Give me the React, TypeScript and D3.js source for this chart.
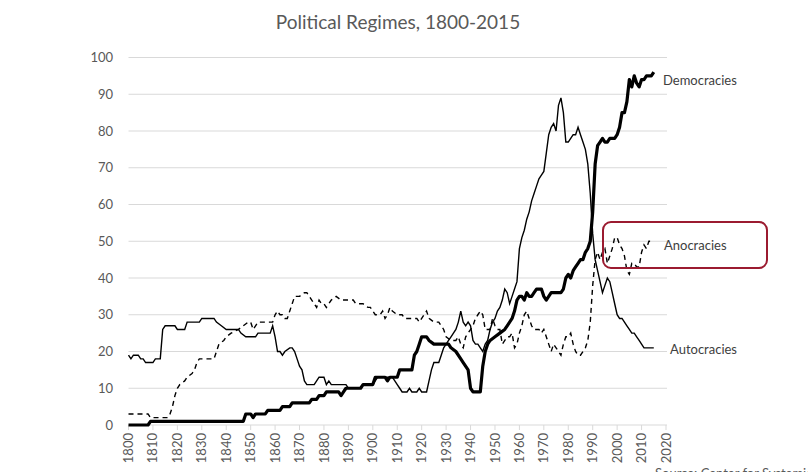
import React from 'react';
import * as d3 from 'd3';

// ── data (count of countries per regime type) ──
const DEM_YEARS = [1800, 1808, 1809, 1847, 1848, 1850, 1851, 1852, 1856, 1857, 1862, 1863, 1866, 1867, 1874, 1875, 1877, 1878, 1880, 1881, 1886, 1887, 1888, 1889, 1895, 1896, 1900, 1901, 1905, 1906, 1907, 1908, 1910, 1911, 1916, 1917, 1918, 1919, 1920, 1922, 1923, 1925, 1931, 1932, 1934, 1936, 1937, 1939, 1940, 1941, 1943, 1944, 1945, 1946, 1947, 1948, 1950, 1952, 1954, 1955, 1956, 1957, 1958, 1959, 1960, 1961, 1962, 1963, 1964, 1965, 1966, 1967, 1969, 1970, 1971, 1972, 1973, 1975, 1976, 1977, 1978, 1979, 1980, 1981, 1982, 1983, 1984, 1985, 1986, 1987, 1988, 1989, 1990, 1991, 1992, 1993, 1994, 1995, 1996, 1997, 1998, 1999, 2000, 2001, 2002, 2003, 2004, 2005, 2006, 2007, 2008, 2009, 2010, 2011, 2012, 2013, 2014, 2015];
const DEM_VALUES = [0, 0, 1, 1, 3, 3, 2, 3, 3, 4, 4, 5, 5, 6, 6, 7, 7, 8, 8, 9, 9, 8, 9, 10, 10, 11, 11, 13, 13, 12, 13, 13, 13, 15, 15, 19, 20, 22, 24, 24, 23, 22, 22, 21, 20, 18, 17, 15, 10, 9, 9, 9, 16, 20, 22, 23, 24, 25, 26, 27, 28, 29, 31, 34, 35, 35, 34, 36, 35, 35, 36, 37, 37, 35, 34, 35, 36, 36, 36, 36, 37, 40, 41, 40, 42, 43, 44, 45, 45, 47, 48, 50, 58, 71, 76, 77, 78, 77, 77, 78, 78, 78, 79, 81, 85, 85, 88, 94, 92, 95, 93, 92, 94, 94, 95, 95, 95, 96];

const AUT_YEARS = [1800, 1801, 1802, 1804, 1805, 1806, 1807, 1810, 1811, 1813, 1814, 1815, 1819, 1820, 1823, 1824, 1829, 1830, 1835, 1836, 1838, 1840, 1845, 1846, 1848, 1852, 1853, 1858, 1859, 1860, 1861, 1862, 1863, 1864, 1866, 1867, 1868, 1869, 1870, 1871, 1872, 1873, 1876, 1877, 1878, 1880, 1881, 1882, 1883, 1889, 1890, 1895, 1896, 1900, 1901, 1902, 1908, 1909, 1910, 1911, 1912, 1914, 1915, 1916, 1918, 1919, 1920, 1922, 1923, 1924, 1925, 1927, 1928, 1929, 1930, 1931, 1932, 1933, 1934, 1935, 1936, 1937, 1938, 1939, 1940, 1941, 1942, 1943, 1944, 1945, 1946, 1947, 1948, 1949, 1950, 1951, 1952, 1953, 1954, 1955, 1956, 1957, 1958, 1959, 1960, 1961, 1962, 1963, 1964, 1965, 1966, 1967, 1968, 1969, 1970, 1971, 1972, 1973, 1974, 1975, 1976, 1977, 1978, 1979, 1980, 1981, 1982, 1983, 1984, 1985, 1986, 1987, 1988, 1989, 1990, 1991, 1992, 1993, 1994, 1995, 1996, 1997, 1998, 1999, 2000, 2001, 2002, 2003, 2004, 2005, 2006, 2007, 2008, 2009, 2010, 2011, 2012, 2015];
const AUT_VALUES = [19, 18, 19, 19, 18, 18, 17, 17, 18, 18, 26, 27, 27, 26, 26, 28, 28, 29, 29, 28, 27, 26, 26, 25, 24, 24, 25, 25, 27, 24, 20, 20, 19, 20, 21, 21, 20, 18, 16, 15, 12, 11, 11, 12, 13, 13, 11, 12, 11, 11, 10, 10, 11, 11, 12, 13, 13, 12, 11, 10, 9, 9, 10, 9, 9, 10, 9, 9, 12, 15, 17, 17, 19, 21, 22, 23, 24, 25, 26, 28, 31, 28, 27, 28, 27, 23, 22, 22, 21, 20, 22, 23, 26, 28, 29, 31, 32, 34, 37, 36, 33, 35, 37, 39, 48, 51, 53, 56, 58, 61, 63, 65, 67, 68, 69, 74, 79, 81, 82, 80, 87, 89, 85, 77, 77, 78, 79, 79, 81, 79, 77, 75, 71, 63, 52, 45, 42, 39, 36, 38, 40, 39, 36, 33, 30, 29, 29, 28, 27, 26, 25, 25, 24, 23, 22, 21, 21, 21];

const ANO_YEARS = [1800, 1808, 1809, 1816, 1817, 1818, 1819, 1820, 1821, 1823, 1824, 1826, 1827, 1828, 1829, 1835, 1836, 1837, 1839, 1840, 1842, 1845, 1847, 1849, 1850, 1851, 1852, 1853, 1859, 1860, 1861, 1862, 1863, 1864, 1865, 1866, 1867, 1868, 1870, 1872, 1873, 1874, 1875, 1876, 1877, 1878, 1879, 1880, 1881, 1883, 1885, 1887, 1892, 1893, 1896, 1898, 1899, 1901, 1903, 1904, 1905, 1906, 1907, 1908, 1910, 1912, 1913, 1916, 1918, 1919, 1920, 1921, 1922, 1923, 1925, 1927, 1928, 1929, 1930, 1932, 1934, 1935, 1936, 1937, 1938, 1939, 1941, 1942, 1943, 1944, 1945, 1946, 1948, 1949, 1950, 1951, 1952, 1953, 1955, 1956, 1957, 1958, 1959, 1960, 1961, 1962, 1963, 1964, 1965, 1966, 1968, 1969, 1970, 1971, 1972, 1973, 1974, 1975, 1976, 1977, 1978, 1979, 1980, 1981, 1982, 1983, 1984, 1985, 1986, 1987, 1988, 1989, 1990, 1991, 1992, 1993, 1994, 1995, 1996, 1997, 1998, 1999, 2000, 2001, 2002, 2003, 2004, 2005, 2006, 2007, 2008, 2009, 2010, 2011, 2012, 2013, 2014, 2015];
const ANO_VALUES = [3, 3, 2, 2, 3, 5, 8, 10, 11, 12, 13, 14, 15, 17, 18, 18, 20, 22, 23, 24, 25, 26, 27, 28, 28, 26, 27, 28, 28, 30, 31, 30, 30, 29, 29, 31, 33, 35, 35, 36, 36, 35, 34, 33, 32, 34, 33, 33, 32, 34, 35, 34, 34, 33, 33, 32, 32, 30, 30, 31, 29, 30, 32, 31, 30, 30, 29, 29, 29, 28, 29, 30, 31, 29, 28, 28, 27, 26, 24, 23, 23, 24, 22, 21, 24, 25, 27, 29, 30, 31, 30, 26, 26, 29, 27, 26, 26, 22, 24, 24, 25, 21, 22, 25, 27, 30, 31, 29, 27, 26, 26, 25, 26, 24, 22, 20, 22, 21, 20, 19, 22, 24, 24, 25, 22, 20, 19, 19, 20, 21, 23, 28, 38, 45, 47, 45, 47, 48, 44, 46, 48, 51, 51, 49, 48, 46, 42, 41, 44, 44, 43, 43, 47, 49, 48, 50, 50, 50];

const Y_TICKS = [0, 10, 20, 30, 40, 50, 60, 70, 80, 90, 100];
const X_TICKS = d3.range(1800, 2021, 10);

const W = 808;
const H = 472;
const FONT = 'Lato, "Open Sans", sans-serif';
const GRAY = '#595959';

export default function App() {
  const x = d3.scaleLinear().domain([1800, 2020]).range([128.5, 666]);
  const y = d3.scaleLinear().domain([0, 100]).range([425, 57.5]);

  const toPts = (years: number[], vals: number[]) => years.map((yr, i) => [yr, vals[i]] as [number, number]);
  const line = d3.line<[number, number]>().x(d => x(d[0])).y(d => y(d[1]));

  const dem = line(toPts(DEM_YEARS, DEM_VALUES)) ?? '';
  const aut = line(toPts(AUT_YEARS, AUT_VALUES)) ?? '';
  const ano = line(toPts(ANO_YEARS, ANO_VALUES)) ?? '';

  return (
    <div style={{ position: 'absolute', left: 0, top: 0 }}>
      <svg width={W} height={H} style={{ display: 'block', background: '#fff' }} fontFamily={FONT}>
        {/* title */}
        <text x={398} y={29} textAnchor="middle" fontSize={19} fill={GRAY}>Political Regimes, 1800-2015</text>

        {/* gridlines + y labels */}
        {Y_TICKS.map(t => (
          <g key={t}>
            {t > 0 && <line x1={128.5} x2={667} y1={y(t)} y2={y(t)} stroke="#d9d9d9" strokeWidth={1} />}
            <text x={113} y={y(t)} dy="0.35em" textAnchor="end" fontSize={13} fill={GRAY}>{t}</text>
          </g>
        ))}

        {/* x axis */}
        <line x1={128.5} x2={667} y1={y(0)} y2={y(0)} stroke="#d9d9d9" strokeWidth={1} />
        {X_TICKS.map(t => (
          <g key={t} transform={`translate(${x(t)},0)`}>
            <line y1={y(0)} y2={y(0) + 5} stroke="#d9d9d9" />
            <text transform={`translate(0,${y(0) + 8}) rotate(-90)`} textAnchor="end" dy="0.35em" fontSize={13} fill={GRAY}>{t}</text>
          </g>
        ))}

        {/* series */}
        <path d={ano} fill="none" stroke="#000" strokeWidth={1.4} strokeDasharray="5,4" />
        <path d={aut} fill="none" stroke="#000" strokeWidth={1.4} />
        <path d={dem} fill="none" stroke="#000" strokeWidth={3.2} strokeLinejoin="round" />

        {/* labels */}
        <text x={663} y={80} dy="0.35em" fontSize={13} fill="#404040">Democracies</text>
        <text x={664} y={245} dy="0.35em" fontSize={13} fill="#404040">Anocracies</text>
        <text x={670} y={349} dy="0.35em" fontSize={13} fill="#404040">Autocracies</text>

        {/* highlight box */}
        <rect x={603} y={222} width={164} height={46} rx={8} ry={8} fill="none" stroke="#9b1b30" strokeWidth={2} />

        {/* source, cut off at the bottom */}
        <text x={655} y={478} fontSize={13} fill={GRAY}>Source: Center for Systemic Peace</text>
      </svg>
    </div>
  );
}
